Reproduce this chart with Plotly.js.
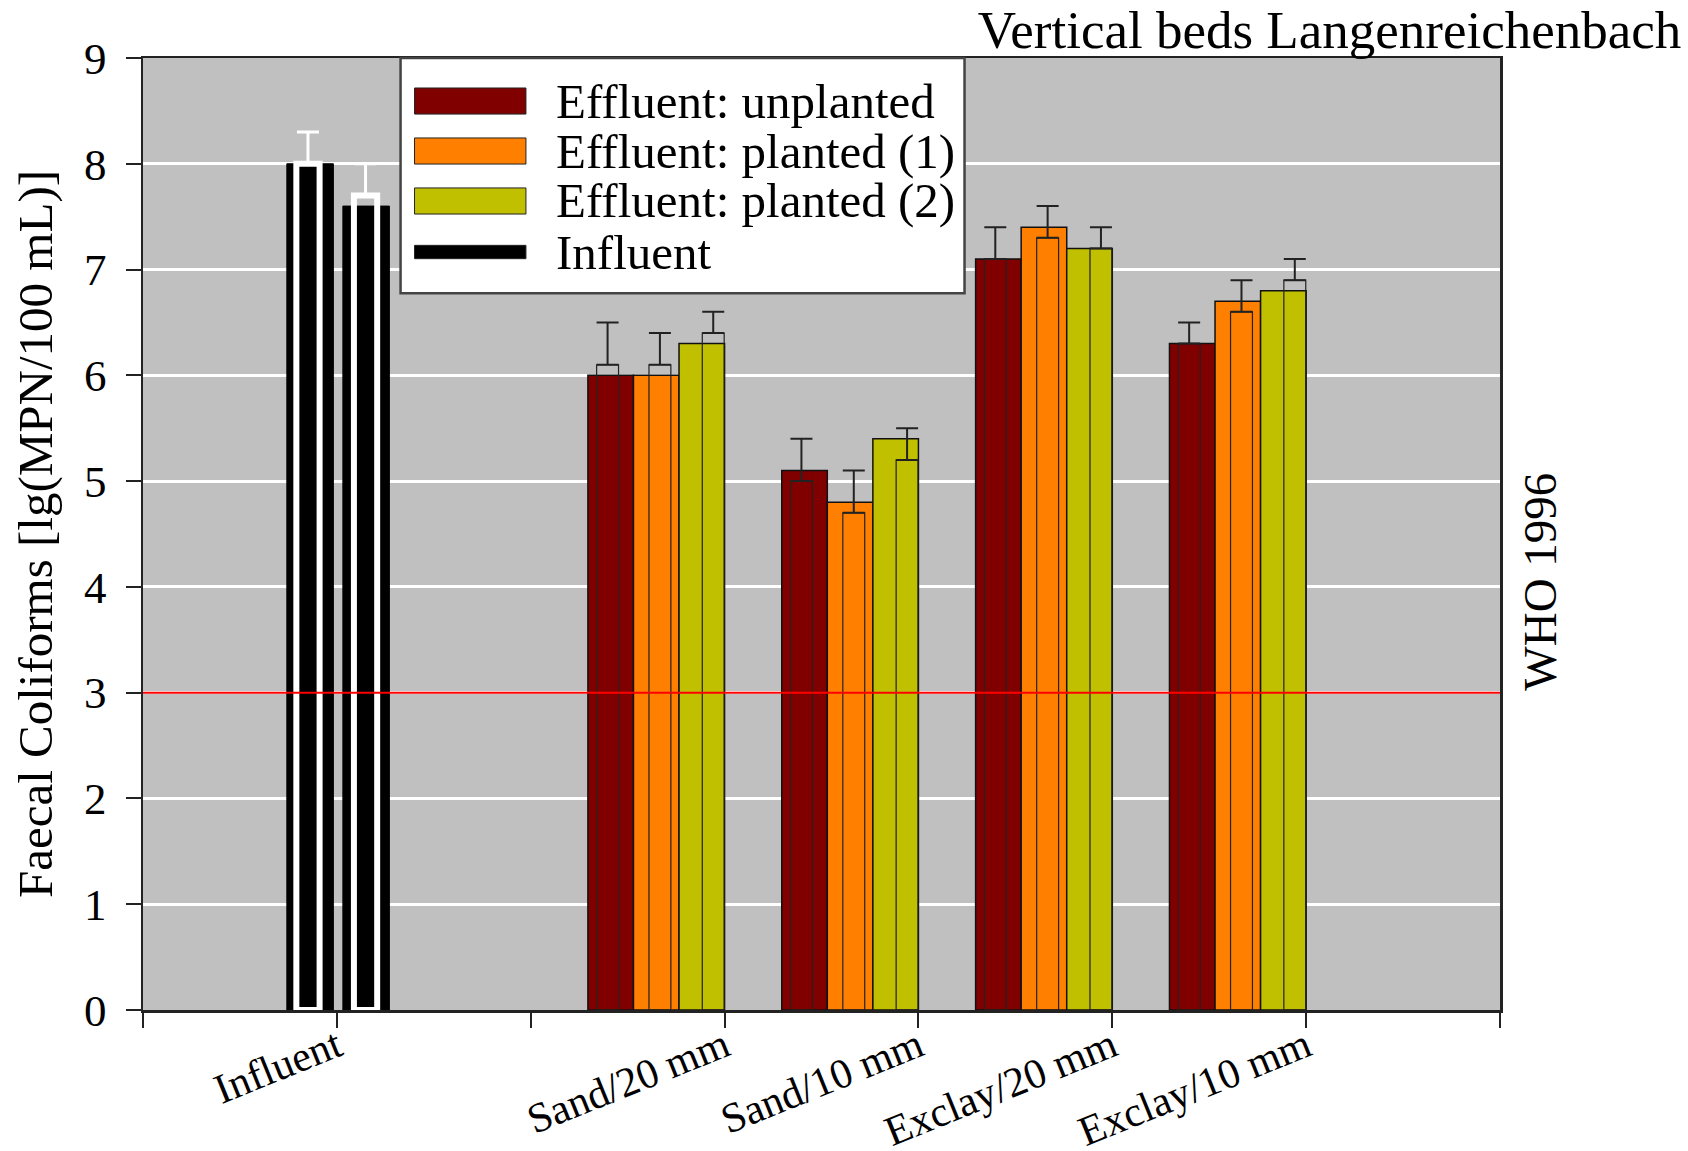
<!DOCTYPE html>
<html><head><meta charset="utf-8">
<script src="https://cdn.plot.ly/plotly-3.0.1.min.js"></script>
<style>html,body{margin:0;padding:0;background:#fff}#chart{width:1688px;height:1151px}</style>
</head><body><div id="chart"></div>
<script>
// ---- data ----
const tickLabels = ['', 'Influent', '', 'Sand/20 mm', 'Sand/10 mm', 'Exclay/20 mm', 'Exclay/10 mm', ''];
const effluentCategories = ['Sand/20 mm', 'Sand/10 mm', 'Exclay/20 mm', 'Exclay/10 mm'];
const influentCategory = ['Influent', 'Influent'];
const seriesNames = ['Effluent: unplanted', 'Effluent: planted (1)', 'Effluent: planted (2)', 'Influent'];
const seriesColors = ['#800000', '#ff8000', '#c0c000', '#000000'];

const unplanted = [6.0, 5.1, 7.1, 6.3];
const planted1 = [6.0, 4.8, 7.4, 6.7];
const planted2 = [6.3, 5.4, 7.2, 6.8];
const unplantedInner = [6.1, 5.0, 7.1, 6.3];
const planted1Inner = [6.1, 4.7, 7.3, 6.6];
const planted2Inner = [6.4, 5.2, 7.2, 6.9];
const unplantedErr = [0.4, 0.4, 0.3, 0.2];
const planted1Err = [0.3, 0.4, 0.3, 0.3];
const planted2Err = [0.2, 0.3, 0.2, 0.2];

const influent = [8.0, 7.6];
const influentInner = [8.0, 7.7];
const influentErr = [0.3, 0.3];

const whoLimit = 3;
const titleText = 'Vertical beds Langenreichenbach';
const yTitle = 'Faecal Coliforms [lg(MPN/100 mL)]';
const whoLabel = 'WHO 1996';

// ---- styles ----
const FONT = 'Liberation Serif, Times New Roman, serif';
const outerOffsets = [-0.705, -0.47, -0.235];
const innerOffsets = [-0.66, -0.39, -0.115];
const outerWidth = 0.235, innerWidth = 0.113;
const influentOuterOffsets = [-0.258, 0.031];
const influentInnerOffsets = [-0.209, 0.088];

const pos = c => tickLabels.indexOf(c);
const effX = effluentCategories.map(pos);
const infX = influentCategory.map(pos);

const outerVals = [unplanted, planted1, planted2];
const innerVals = [unplantedInner, planted1Inner, planted2Inner];
const errVals = [unplantedErr, planted1Err, planted2Err];

const traces = [];
outerVals.forEach((v, s) => {
  traces.push({type:'bar', name:seriesNames[s], x:effX, y:v, width:outerWidth, offset:outerOffsets[s],
    marker:{color:seriesColors[s], line:{color:'#111', width:1.5}}, hoverinfo:'y'});
});
traces.push({type:'bar', name:seriesNames[3], x:infX, y:influent, width:0.24, offset:influentOuterOffsets,
  marker:{color:seriesColors[3], line:{color:'#000', width:1}}, hoverinfo:'y'});
innerVals.forEach((v, s) => {
  traces.push({type:'bar', name:seriesNames[s] + ' (2nd)', x:effX, y:v, width:innerWidth, offset:innerOffsets[s],
    marker:{color:'rgba(0,0,0,0)', line:{color:'#222', width:1.2}},
    error_y:{type:'data', symmetric:false, array:errVals[s], arrayminus:v.map(()=>0), color:'#222', thickness:2, width:11},
    hoverinfo:'y'});
});
traces.push({type:'bar', name:'Influent (2nd)', x:infX, y:influentInner, width:0.12, offset:influentInnerOffsets,
  marker:{color:'rgba(0,0,0,0)', line:{color:'#fff', width:6}},
  error_y:{type:'data', symmetric:false, array:influentErr, arrayminus:[0,0], color:'#fff', thickness:3, width:11},
  hoverinfo:'y'});

// ---- legend drawn as shapes ----
const legBox = {x0:0.1898, x1:0.6054, y0:0.753, y1:1.0};
const rowY = [0.9548, 0.9023, 0.8498, 0.7962];
const swH = [0.0137, 0.0137, 0.0137, 0.0070];
const shapes = [
  {type:'line', xref:'paper', x0:0, x1:1, yref:'y', y0:whoLimit, y1:whoLimit, line:{color:'#ff0000', width:2}, layer:'above'},
  {type:'rect', xref:'paper', yref:'paper', x0:legBox.x0, x1:legBox.x1, y0:legBox.y0, y1:legBox.y1,
   fillcolor:'#fff', line:{color:'#444', width:2.5}, layer:'above'}
];
const annotations = [
  {text:whoLabel, xref:'paper', x:1, xshift:40, xanchor:'center', yref:'y', y:whoLimit, yanchor:'bottom',
   textangle:-90, showarrow:false, font:{family:FONT, size:47, color:'#000'}}
];
seriesNames.forEach((n, i) => {
  shapes.push({type:'rect', xref:'paper', yref:'paper', x0:0.2001, x1:0.2822, y0:rowY[i]-swH[i], y1:rowY[i]+swH[i],
    fillcolor:seriesColors[i], line:{color:'#222', width:1}, layer:'above'});
  annotations.push({text:n, xref:'paper', yref:'paper', x:0.3029, xanchor:'left', y:rowY[i], yanchor:'middle',
    showarrow:false, font:{family:FONT, size:49, color:'#000'}});
});

const layout = {
  width:1688, height:1151,
  margin:{l:143, r:188, t:58, b:141, pad:0},
  paper_bgcolor:'#fff', plot_bgcolor:'#c0c0c0',
  font:{family:FONT, color:'#000'},
  barmode:'overlay', showlegend:false,
  title:{text:titleText, font:{family:FONT, size:53, color:'#000'}, xref:'container', x:0.996, xanchor:'right',
    yref:'container', y:1 - 29/1151, yanchor:'middle', pad:{t:0, b:0}},
  xaxis:{range:[0,7], tickmode:'array', tickvals:tickLabels.map((_, i)=>i), ticktext:tickLabels, tickangle:-22,
    ticks:'outside', ticklen:15, tickwidth:2, tickcolor:'#222', showline:true, mirror:true, linecolor:'#222', linewidth:2.5,
    showgrid:false, zeroline:false, tickfont:{family:FONT, size:42, color:'#000'}, ticklabelstandoff:-22, automargin:false},
  yaxis:{range:[0,9], tick0:0, dtick:1, ticks:'outside', ticklen:15, tickwidth:2, tickcolor:'#222',
    showline:true, mirror:true, linecolor:'#222', linewidth:2.5, showgrid:true, gridcolor:'#fff', gridwidth:3,
    zeroline:false, tickfont:{family:FONT, size:45, color:'#000'}, ticklabelstandoff:10, automargin:false,
    title:{text:yTitle, font:{family:FONT, size:49, color:'#000'}, standoff:16}},
  shapes:shapes, annotations:annotations
};
Plotly.newPlot('chart', traces, layout, {staticPlot:true});
</script></body></html>
